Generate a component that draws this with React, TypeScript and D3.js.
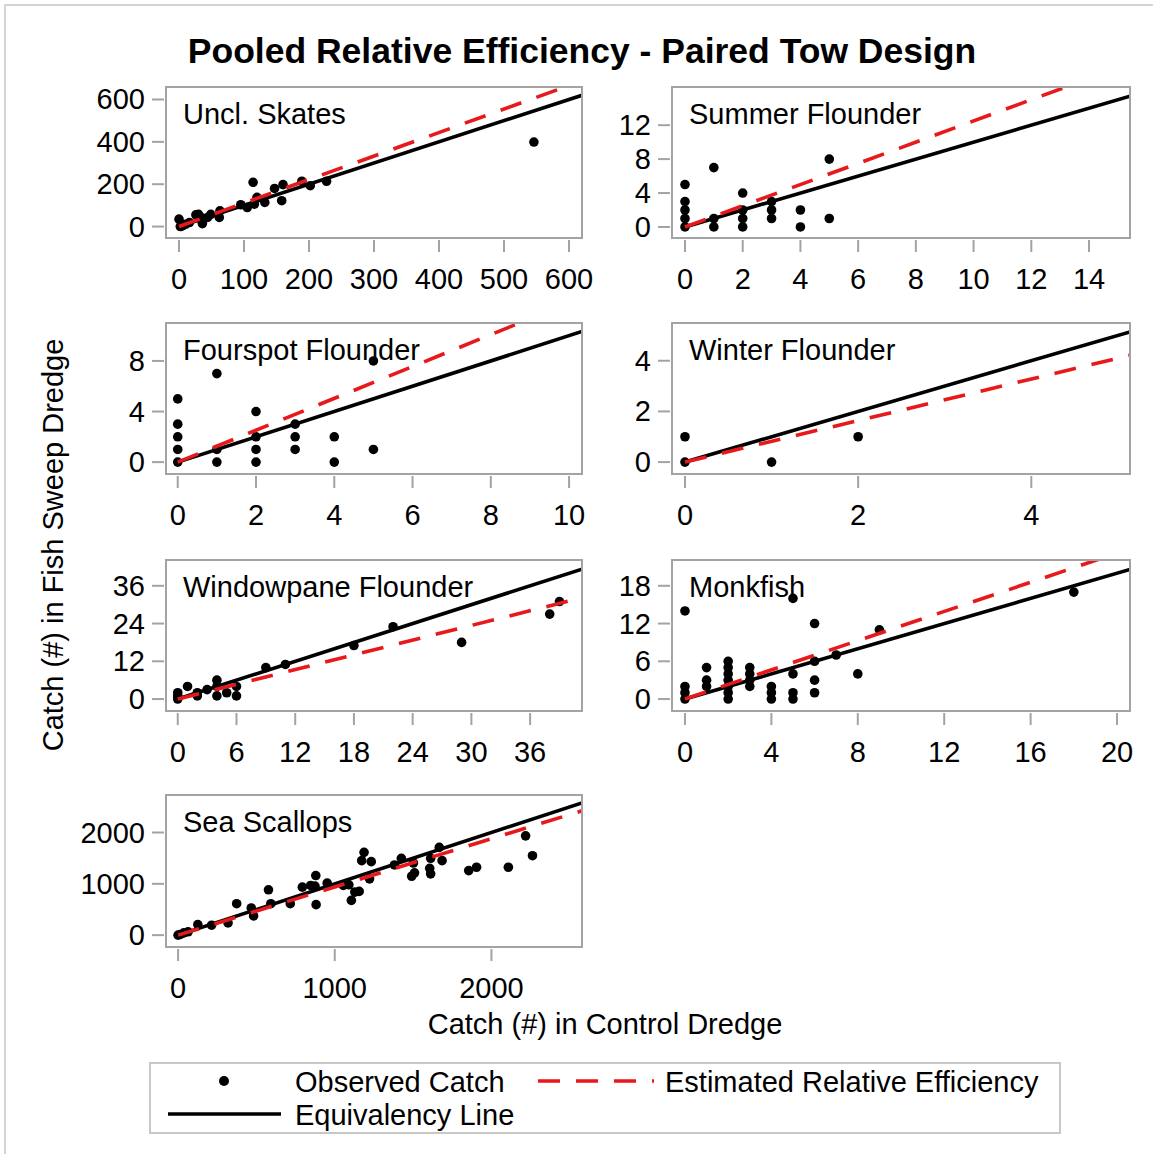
import React from "react";
import * as d3 from "d3";

// ---- data ---------------------------------------------------------------
const panelNames = [
  "Uncl. Skates",
  "Summer Flounder",
  "Fourspot Flounder",
  "Winter Flounder",
  "Windowpane Flounder",
  "Monkfish",
  "Sea Scallops",
];

// estimated relative efficiency (slope of the dashed line)
const relEfficiency = [1.11, 1.25, 1.26, 0.82, 0.78, 1.16, 0.94];

const xDomains: [number, number][] = [
  [-20, 620],
  [-0.45, 15.42],
  [-0.3, 10.33],
  [-0.15, 5.14],
  [-1.2, 41.3],
  [-0.6, 20.6],
  [-77, 2578],
];
const yDomains: [number, number][] = [
  [-54, 659],
  [-1.3, 16.5],
  [-0.94, 11],
  [-0.47, 5.49],
  [-3.8, 44.2],
  [-1.9, 22.1],
  [-231, 2731],
];

const xTickValues = [
  [0, 100, 200, 300, 400, 500, 600],
  [0, 2, 4, 6, 8, 10, 12, 14],
  [0, 2, 4, 6, 8, 10],
  [0, 2, 4],
  [0, 6, 12, 18, 24, 30, 36],
  [0, 4, 8, 12, 16, 20],
  [0, 1000, 2000],
];
const yTickValues = [
  [0, 200, 400, 600],
  [0, 4, 8, 12],
  [0, 4, 8],
  [0, 2, 4],
  [0, 12, 24, 36],
  [0, 6, 12, 18],
  [0, 1000, 2000],
];

// catch in control dredge (x) / fish sweep dredge (y)
const skatesControl = [0, 2, 5, 10, 16, 26, 30, 34, 35, 36, 44, 49, 62, 63, 95, 105, 114, 116, 120, 132, 147, 158, 160, 189, 202, 227, 546];
const skatesSweep = [35, 0, 3, 11, 19, 55, 58, 43, 27, 14, 43, 58, 43, 74, 103, 90, 209, 106, 138, 114, 180, 122, 198, 214, 193, 214, 399];

const summerControl = [0, 0, 0, 0, 0, 1, 1, 1, 2, 2, 2, 2, 3, 3, 3, 4, 4, 5, 5];
const summerSweep = [5, 3, 2, 1, 0, 7, 1, 0, 4, 2, 1, 0, 3, 2, 1, 2, 0, 8, 1];

const fourspotControl = [0, 0, 0, 0, 0, 1, 1, 1, 2, 2, 2, 2, 3, 3, 3, 4, 4, 5, 5];
const fourspotSweep = [5, 3, 2, 1, 0, 7, 1, 0, 4, 2, 1, 0, 3, 2, 1, 2, 0, 8, 1];

const winterControl = [0, 0, 1, 2];
const winterSweep = [1, 0, 0, 1];

const windowpaneControl = [0, 0, 0, 1, 2, 2, 3, 4, 4, 4, 5, 6, 6, 9, 11, 18, 22, 29, 38, 39];
const windowpaneSweep = [0, 2, 1, 4, 2, 1, 3, 6, 4, 1, 2, 4, 1, 10, 11, 17, 23, 18, 27, 31];

const monkfishControl = [0, 0, 0, 0, 1, 1, 1, 2, 2, 2, 2, 2, 2, 2, 3, 3, 3, 3, 4, 4, 4, 5, 5, 5, 5, 6, 6, 6, 6, 7, 8, 9, 18];
const monkfishSweep = [14, 2, 1, 0, 5, 3, 2, 0, 1, 2, 3, 4, 5, 6, 2, 3, 4, 5, 0, 1, 2, 16, 4, 1, 0, 12, 6, 3, 1, 7, 4, 11, 17];

const scallopControl = [0, 15, 37, 64, 126, 214, 319, 374, 467, 482, 577, 592, 716, 793, 846, 874, 879, 881, 952, 1055, 1090, 1106, 1128, 1156, 1172, 1187, 1222, 1233, 1381, 1425, 1491, 1502, 1509, 1606, 1612, 1612, 1667, 1685, 1855, 1905, 2108, 2218, 2262];
const scallopSweep = [0, 13, 45, 65, 206, 194, 239, 613, 529, 374, 884, 613, 613, 935, 968, 955, 1161, 594, 1013, 968, 981, 677, 839, 852, 1452, 1613, 1097, 1432, 1368, 1497, 1148, 1406, 1213, 1303, 1194, 1497, 1710, 1452, 1258, 1323, 1323, 1935, 1548];

const controlCatch = [skatesControl, summerControl, fourspotControl, winterControl, windowpaneControl, monkfishControl, scallopControl];
const sweepCatch = [skatesSweep, summerSweep, fourspotSweep, winterSweep, windowpaneSweep, monkfishSweep, scallopSweep];

const titleText = "Pooled Relative Efficiency - Paired Tow Design";
const xAxisTitle = "Catch (#) in Control Dredge";
const yAxisTitle = "Catch (#) in Fish Sweep Dredge";
const legendLabels = ["Observed Catch", "Estimated Relative Efficiency", "Equivalency Line"];

// ---- layout -------------------------------------------------------------
const W = 1153;
const H = 1154;
const FONT = "'Liberation Sans', Arial, Helvetica, sans-serif";
const FS = 29;
const colLeft = [166, 672];
const colRight = [582, 1130];
const rowTop = [87, 323, 560, 795];
const rowHeight = [151, 151, 151, 152];
const FRAME = "#a3a3a3";
const RED = "#e8191b";
const DASH = "22 16";
const LW = 3.6;

function Panel({ i }: { i: number }) {
  const col = i % 2;
  const row = Math.floor(i / 2);
  const x0 = colLeft[col];
  const x1 = colRight[col];
  const y0 = rowTop[row];
  const y1 = y0 + rowHeight[row];

  const xs = d3.scaleLinear().domain(xDomains[i]).range([x0, x1]);
  const ys = d3.scaleLinear().domain(yDomains[i]).range([y1, y0]);
  const xMax = xDomains[i][1];
  const line = d3
    .line<[number, number]>()
    .x((d) => xs(d[0]))
    .y((d) => ys(d[1]));
  const equiv = line([
    [0, 0],
    [xMax, xMax],
  ]) as string;
  const est = line([
    [0, 0],
    [xMax, xMax * relEfficiency[i]],
  ]) as string;
  const clipId = `clip-${i}`;
  const xs0 = controlCatch[i];
  const ys0 = sweepCatch[i];

  return (
    <g>
      <defs>
        <clipPath id={clipId}>
          <rect x={x0} y={y0} width={x1 - x0} height={y1 - y0} />
        </clipPath>
      </defs>
      <g clipPath={`url(#${clipId})`}>
        {xs0.map((v, k) => (
          <circle key={k} cx={xs(v)} cy={ys(ys0[k])} r={4.8} fill="#000" />
        ))}
        <path d={equiv} stroke="#000" strokeWidth={LW} fill="none" />
        <path d={est} stroke={RED} strokeWidth={LW} fill="none" strokeDasharray={DASH} />
      </g>
      <rect x={x0} y={y0} width={x1 - x0} height={y1 - y0} fill="none" stroke={FRAME} strokeWidth={2} />
      <text x={x0 + 17} y={y0 + 37} fontSize={FS} fontFamily={FONT} fill="#000">
        {panelNames[i]}
      </text>
      {xTickValues[i].map((t) => (
        <g key={`x${t}`}>
          <line x1={xs(t)} x2={xs(t)} y1={y1 + 2} y2={y1 + 14} stroke={FRAME} strokeWidth={2} />
          <text x={xs(t)} y={y1 + 51} textAnchor="middle" fontSize={FS} fontFamily={FONT} fill="#000">
            {t}
          </text>
        </g>
      ))}
      {yTickValues[i].map((t) => (
        <g key={`y${t}`}>
          <line x1={x0 - 14} x2={x0 - 2} y1={ys(t)} y2={ys(t)} stroke={FRAME} strokeWidth={2} />
          <text x={x0 - 21} y={ys(t) + 10} textAnchor="end" fontSize={FS} fontFamily={FONT} fill="#000">
            {t}
          </text>
        </g>
      ))}
    </g>
  );
}

export default function App() {
  return (
    <svg
      width={W}
      height={H}
      style={{ position: "absolute", left: 0, top: 0, background: "#fff" }}
    >
      <rect x={0} y={0} width={W} height={H} fill="#fff" />
      <rect x={5} y={5} width={W - 4} height={H - 4} fill="none" stroke="#d4d4d4" strokeWidth={2} />
      <text x={582} y={63} textAnchor="middle" fontSize={35.5} fontWeight="bold" fontFamily={FONT} fill="#000">
        {titleText}
      </text>
      {panelNames.map((_, i) => (
        <Panel key={i} i={i} />
      ))}
      <text x={605} y={1034} textAnchor="middle" fontSize={FS} fontFamily={FONT} fill="#000">
        {xAxisTitle}
      </text>
      <text
        transform="translate(63,545) rotate(-90)"
        textAnchor="middle"
        fontSize={FS}
        fontFamily={FONT}
        fill="#000"
      >
        {yAxisTitle}
      </text>
      {/* legend */}
      <rect x={150} y={1063} width={910} height={70} fill="none" stroke="#c8c8c8" strokeWidth={2} />
      <circle cx={224} cy={1081} r={5} fill="#000" />
      <text x={295} y={1092} fontSize={FS} fontFamily={FONT} fill="#000">
        {legendLabels[0]}
      </text>
      <line x1={538} x2={654} y1={1081} y2={1081} stroke={RED} strokeWidth={LW} strokeDasharray={DASH} />
      <text x={665} y={1092} fontSize={FS} fontFamily={FONT} fill="#000">
        {legendLabels[1]}
      </text>
      <line x1={168} x2={281} y1={1114} y2={1114} stroke="#000" strokeWidth={LW} />
      <text x={295} y={1125} fontSize={FS} fontFamily={FONT} fill="#000">
        {legendLabels[2]}
      </text>
    </svg>
  );
}
